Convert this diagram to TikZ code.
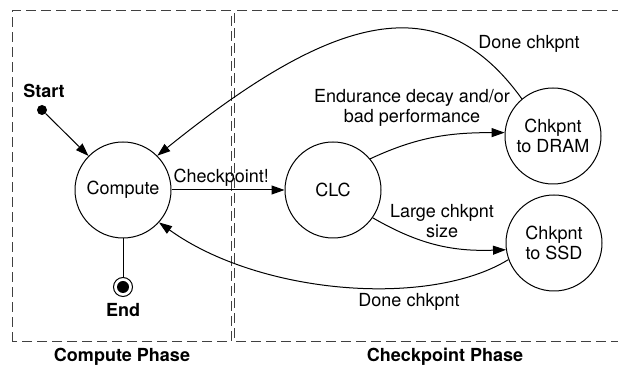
\documentclass[tikz,border=0pt]{standalone}
\usepackage{fontspec}
\setmainfont{TeX Gyre Heros}
\usetikzlibrary{arrows.meta}

\begin{document}
\begin{tikzpicture}[x=1pt,y=1pt,
  every node/.style={font=\fontsize{18}{20}\selectfont},
  state/.style={circle,draw,line width=1pt,minimum size=96pt,inner sep=0pt,align=center},
  phase/.style={draw=black!75,line width=1pt,dash pattern=on 10pt off 5pt},
  arr/.style={line width=1pt,-{Triangle[length=13pt,width=9pt]}},
  lbl/.style={font=\fontsize{18}{20}\selectfont\bfseries}]
\useasboundingbox (0,0) rectangle (618,366);

% phases
\draw[phase] (12,24) rectangle (231,355);
\draw[phase] (622,355) -- (234.5,355) -- (234.5,24) -- (622,24);
\node[lbl] (cphase) at (122,9) {Compute Phase};
\node[lbl] (kphase) at (445,9) {Checkpoint Phase};

% states
\node[state] (compute) at (123,176) {Compute};
\node[state] (clc) at (333,176) {CLC};
\node[state] (dram) at (553,230) {Chkpnt\\to DRAM};
\node[state] (ssd) at (554,123) {Chkpnt\\to SSD};

% start and end
\node[lbl] (starttxt) at (44,275) {Start};
\node[circle,fill,minimum size=10pt,inner sep=0pt] (start) at (42,256) {};
\node[circle,draw,line width=1pt,minimum size=19pt,inner sep=0pt] (end) at (123,79) {};
\fill (end.center) circle (6);
\node[lbl] (endtxt) at (123,56) {End};

\draw[arr] (start) -- (compute);
\draw[line width=1pt] (compute) -- (end);
\draw[arr] (compute) -- node[above,pos=0.44] {Checkpoint!} (clc);

\draw[arr] (clc.40) to[out=25,in=180] (dram.176);
\node[align=center] (endur) at (412,258) {Endurance decay and/or\\bad performance};
\draw[arr] (clc.-35) to[out=-30,in=182] (ssd.188);
\node[align=center] (large) at (442,145) {Large chkpnt\\size};

% done
\draw[arr] (dram.130) .. controls (440,381) and (334,353) .. (compute.45);
\node (done1) at (529,322) {Done chkpnt};
\draw[arr] (ssd.200) .. controls (430,58) and (260,71) .. (compute.-42);
\node (done2) at (409,64) {Done chkpnt};
\end{tikzpicture}
\end{document}
